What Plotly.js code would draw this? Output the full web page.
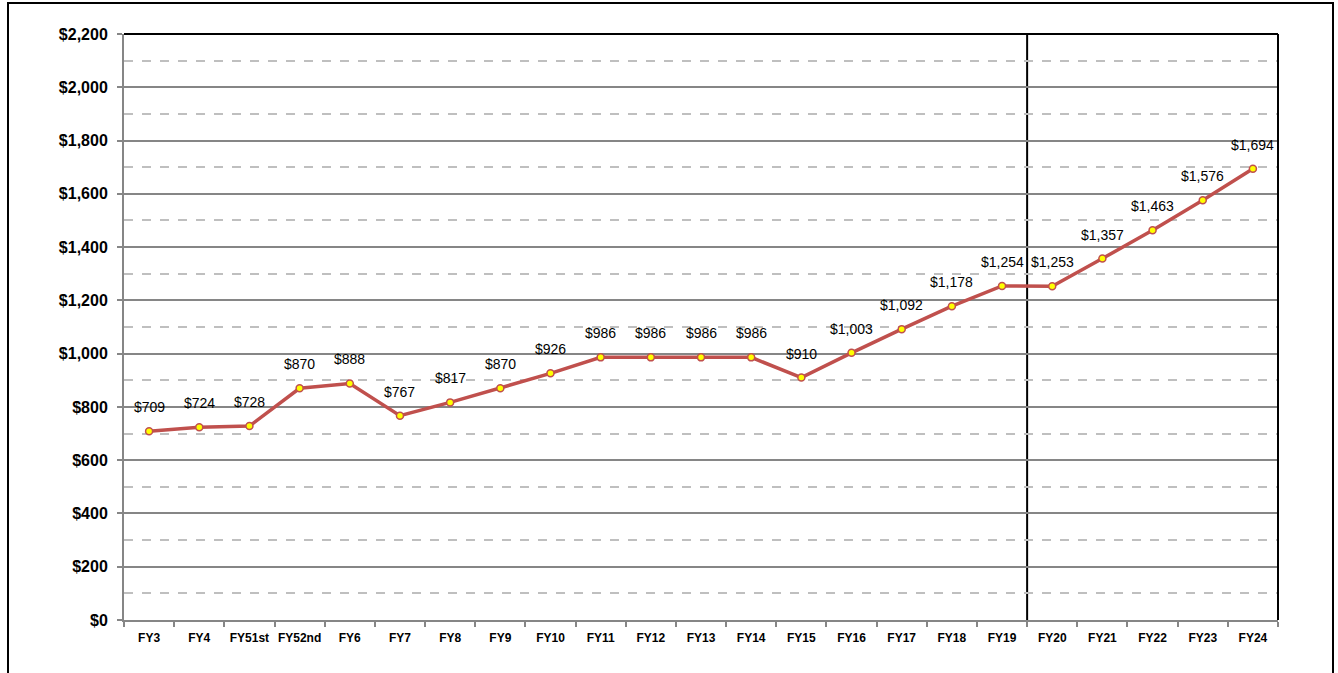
<!DOCTYPE html>
<html>
<head>
<meta charset="utf-8">
<script src="https://cdn.plot.ly/plotly-3.0.1.min.js"></script>
<style>
  html, body { margin: 0; padding: 0; background: #fff; }
  #wrap { position: relative; width: 1338px; height: 673px; overflow: hidden; }
  #chart { position: absolute; left: 0; top: 0; width: 1338px; height: 673px; }
  #frame { position: absolute; left: 7px; top: 2px; width: 1327px; height: 700px;
           border: 2px solid #000; box-sizing: border-box; pointer-events: none; }
</style>
</head>
<body>
<div id="wrap">
  <div id="chart"></div>
  <div id="frame"></div>
</div>
<script>
const categories = ["FY3","FY4","FY51st","FY52nd","FY6","FY7","FY8","FY9","FY10","FY11","FY12","FY13","FY14","FY15","FY16","FY17","FY18","FY19","FY20","FY21","FY22","FY23","FY24"];
const values = [709,724,728,870,888,767,817,870,926,986,986,986,986,910,1003,1092,1178,1254,1253,1357,1463,1576,1694];
const yTickVals = [0,200,400,600,800,1000,1200,1400,1600,1800,2000,2200];
const yTickText = ["$0","$200","$400","$600","$800","$1,000","$1,200","$1,400","$1,600","$1,800","$2,000","$2,200"];
const dividerAfter = "FY19";

const sans = "'Liberation Sans', Arial, sans-serif";
const fmt = v => "$" + v.toLocaleString("en-US");

const trace = {
  type: "scatter",
  mode: "lines+markers",
  x: categories,
  y: values,
  line: { color: "#C0504D", width: 3.5 },
  marker: { size: 7, color: "#FFFF00", line: { color: "#C0504D", width: 1.5 } },
  hoverinfo: "skip"
};

const annotations = categories.map((c, i) => ({
  x: c, y: values[i], xref: "x", yref: "y",
  text: fmt(values[i]), showarrow: false, yshift: 24,
  font: { family: sans, size: 14, color: "#000" }
}));

const divIdx = categories.indexOf(dividerAfter) + 0.5;

const layout = {
  width: 1338, height: 673,
  margin: { l: 124, r: 60, t: 34, b: 53 },
  paper_bgcolor: "#fff", plot_bgcolor: "#fff",
  showlegend: false,
  xaxis: {
    type: "category",
    range: [-0.5, categories.length - 0.5],
    showgrid: false,
    showline: true, linecolor: "#868686", linewidth: 2,
    ticks: "outside", tickson: "boundaries", ticklen: 5, tickcolor: "#868686", tickwidth: 2,
    tickangle: 0,
    ticklabelstandoff: 6,
    tickfont: { family: sans, size: 12, color: "#000", weight: "bold" },
    zeroline: false
  },
  yaxis: {
    range: [0, 2200],
    tickvals: yTickVals, ticktext: yTickText,
    showline: true, linecolor: "#868686", linewidth: 2,
    ticks: "outside", ticklen: 5, tickcolor: "#868686", tickwidth: 2,
    tickfont: { family: sans, size: 16, color: "#000", weight: "bold" },
    showgrid: true, gridcolor: "#868686", gridwidth: 2,
    minor: { dtick: 100, tick0: 0, showgrid: true, gridcolor: "#BFBFBF", griddash: "dash", gridwidth: 2, ticks: "" },
    zeroline: false,
    ticklabelstandoff: 6
  },
  shapes: [
    { type: "line", xref: "paper", yref: "paper", x0: 0, x1: 1, y0: 1, y1: 1, line: { color: "#000", width: 2 } },
    { type: "line", xref: "paper", yref: "paper", x0: 1, x1: 1, y0: 0, y1: 1, line: { color: "#000", width: 2 } },
    { type: "line", xref: "x", yref: "paper", x0: divIdx, x1: divIdx, y0: 0, y1: 1, line: { color: "#000", width: 2 }, layer: "below" }
  ],
  annotations: annotations
};

Plotly.newPlot("chart", [trace], layout, { staticPlot: true, displayModeBar: false });
</script>
</body>
</html>
